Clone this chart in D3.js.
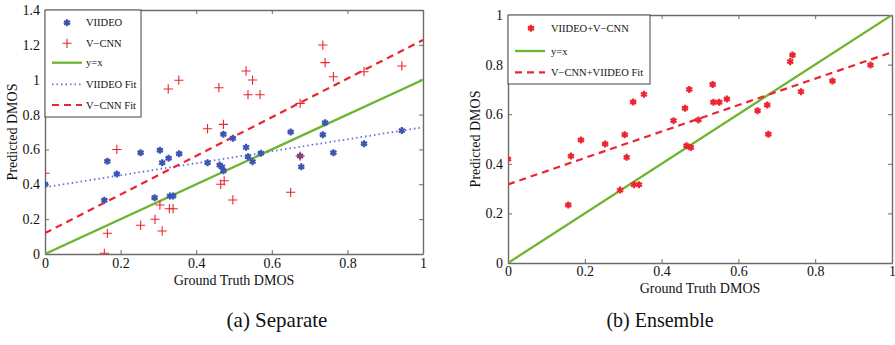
<!DOCTYPE html>
<html><head><meta charset="utf-8">
<script src="https://cdn.jsdelivr.net/npm/d3@7"></script>
<style>body{margin:0;background:#fff}svg{display:block}svg text{font-family:"Liberation Serif","DejaVu Serif",serif !important;fill:#111}</style>
</head><body><svg id="c" width="895" height="345"></svg>
<script>
// ---- data ----
const viideoX = [0,0.157,0.165,0.19,0.253,0.29,0.304,0.31,0.327,0.331,0.339,0.355,0.43,0.462,0.468,0.472,0.472,0.497,0.532,0.537,0.549,0.571,0.65,0.675,0.678,0.735,0.741,0.763,0.844,0.944];
const viideoY = [0.40,0.308,0.532,0.459,0.581,0.323,0.595,0.524,0.549,0.333,0.333,0.575,0.524,0.51,0.50,0.478,0.687,0.664,0.612,0.558,0.53,0.578,0.70,0.562,0.50,0.684,0.753,0.581,0.633,0.708];
const vcnnX = [0,0.157,0.165,0.19,0.253,0.291,0.304,0.31,0.326,0.329,0.339,0.354,0.43,0.46,0.465,0.472,0.474,0.497,0.532,0.537,0.549,0.569,0.65,0.675,0.675,0.735,0.741,0.763,0.844,0.944];
const vcnnY = [0.463,0.004,0.119,0.60,0.165,0.199,0.281,0.132,0.947,0.26,0.26,0.997,0.719,0.954,0.40,0.744,0.42,0.31,1.05,0.914,0.998,0.914,0.354,0.562,0.864,1.199,1.098,1.017,1.046,1.079];
const ensX = [0,0.157,0.164,0.19,0.253,0.292,0.304,0.309,0.326,0.328,0.341,0.354,0.431,0.461,0.465,0.472,0.476,0.496,0.533,0.535,0.55,0.57,0.65,0.675,0.678,0.735,0.741,0.763,0.845,0.944];
const ensY = [0.419,0.234,0.431,0.496,0.48,0.294,0.517,0.426,0.649,0.316,0.316,0.68,0.574,0.624,0.473,0.70,0.466,0.577,0.72,0.648,0.648,0.661,0.614,0.637,0.519,0.812,0.839,0.691,0.734,0.798];
// fit lines: predicted value at x=0 and x=1
const viideoFit = [0.383, 0.727];
const vcnnFit = [0.12, 1.228];
const ensFit = [0.317, 0.85];
const identity = [0, 1];
const xTicksL = [0,0.2,0.4,0.6,0.8,1];
const yTicksL = [0,0.2,0.4,0.6,0.8,1,1.2,1.4];
const yTicksR = [0,0.2,0.4,0.6,0.8,1];
const xLabel = "Ground Truth DMOS", yLabel = "Predicted DMOS";
const captions = ["(a) Separate", "(b) Ensemble"];
const legendL = ["VIIDEO","V\u2212CNN","y=x","VIIDEO Fit","V\u2212CNN Fit"];
const legendR = ["VIIDEO+V\u2212CNN","y=x","V\u2212CNN+VIIDEO Fit"];

const BLUE="#3b56b0", RED="#ec2430", GREEN="#6cb52f", DOT="#6a6ae0", AX="#6b6b6b";
const FONT = '"Liberation Serif","DejaVu Serif",serif';
const svg = d3.select("#c");

function panel(cfg){
  const g = svg.append("g");
  const x = d3.scaleLinear().domain([0,1]).range([cfg.x0,cfg.x1]);
  const y = d3.scaleLinear().domain([0,cfg.ymax]).range([cfg.yb,cfg.yt]);
  const fmt = d => d3.format("~g")(d);
  const ax = (axis, tr) => {const a=g.append("g").attr("transform",tr).call(axis);
    a.attr("font-family",FONT);
    a.select(".domain").attr("stroke",AX).attr("stroke-width",1.4);
    a.selectAll(".tick line").attr("stroke",AX).attr("stroke-width",1);
    a.selectAll("text").attr("font-size",14).attr("fill","#111");
    return a;};
  ax(d3.axisBottom(x).tickValues(cfg.xt).tickSize(-4).tickSizeOuter(0).tickPadding(cfg.xpad).tickFormat(fmt),`translate(0,${cfg.yb})`);
  ax(d3.axisTop(x).tickValues(cfg.xt).tickSize(-4).tickSizeOuter(0).tickFormat(""),`translate(0,${cfg.yt})`);
  ax(d3.axisLeft(y).tickValues(cfg.yt_).tickSize(-4).tickSizeOuter(0).tickPadding(5).tickFormat(fmt),`translate(${cfg.x0},0)`);
  ax(d3.axisRight(y).tickValues(cfg.yt_).tickSize(-4).tickSizeOuter(0).tickFormat(""),`translate(${cfg.x1},0)`);
  const line = d3.line().x(d=>x(d[0])).y(d=>y(d[1]));
  const clip = "clip"+cfg.id;
  svg.append("clipPath").attr("id",clip).append("rect").attr("x",cfg.x0).attr("y",cfg.yt).attr("width",cfg.x1-cfg.x0).attr("height",cfg.yb-cfg.yt);
  const pg = g.append("g").attr("clip-path",`url(#${clip})`);
  return {g,pg,x,y,line};
}
const asterisk = d3.symbol().type(d3.symbolAsterisk).size(34);
const plus = d3.symbol().type(d3.symbolPlus).size(30);

function drawPts(p, xs, ys, sym, color, sw){
  p.pg.selectAll(null).data(xs.map((v,i)=>[v,ys[i]])).join("path")
    .attr("d",sym).attr("transform",d=>`translate(${p.x(d[0])},${p.y(d[1])})`)
    .attr("fill","none").attr("stroke",color).attr("stroke-width",sw);
}
function fitLine(p, vals, color, dash, sw){
  p.pg.append("path").attr("d",p.line([[0,vals[0]],[1,vals[1]]])).attr("fill","none")
   .attr("stroke",color).attr("stroke-width",sw).attr("stroke-dasharray",dash);
}

// Left panel
const L = panel({id:"L",x0:45,x1:423,yt:10,yb:254,ymax:1.4,xt:xTicksL,yt_:yTicksL,xpad:4});
fitLine(L, identity, GREEN, null, 2.3);
fitLine(L, viideoFit, DOT, "1.5,3", 1.8);
fitLine(L, vcnnFit, RED, "7,5", 2.2);
drawPts(L, viideoX, viideoY, asterisk, BLUE, 2.2);
drawPts(L, vcnnX, vcnnY, plus, RED, 1.1);

// Right panel
const R = panel({id:"R",x0:508,x1:892,yt:15,yb:263,ymax:1,xt:xTicksL,yt_:yTicksR,xpad:3});
fitLine(R, identity, GREEN, null, 2.3);
fitLine(R, ensFit, RED, "7,5", 2.2);
drawPts(R, ensX, ensY, asterisk, RED, 2.2);

// Legends
function legend(x0,y0,w,h,items,ys,symX,lx0,lx1,tx){
  const g = svg.append("g");
  g.append("rect").attr("x",x0).attr("y",y0).attr("width",w).attr("height",h).attr("fill","#fff").attr("stroke","#444").attr("stroke-width",1);
  items.forEach((it,i)=>{
    const yy = ys[i];
    if(it.sym){ g.append("path").attr("d",it.sym).attr("transform",`translate(${symX},${yy})`).attr("fill","none").attr("stroke",it.color).attr("stroke-width",it.sw); }
    else { g.append("line").attr("x1",lx0).attr("x2",lx1).attr("y1",yy).attr("y2",yy).attr("stroke",it.color).attr("stroke-width",it.w).attr("stroke-dasharray",it.dash); }
    g.append("text").attr("x",tx).attr("y",yy).attr("dy","0.35em").attr("font-size",10.5).attr("font-family",FONT).text(it.label);
  });
}
legend(45,10,96,107,[
  {label:legendL[0],sym:asterisk,color:BLUE,sw:2.2},
  {label:legendL[1],sym:plus,color:RED,sw:1.1},
  {label:legendL[2],color:GREEN,w:2.3,dash:null},
  {label:legendL[3],color:DOT,w:1.8,dash:"1.5,3"},
  {label:legendL[4],color:RED,w:2.2,dash:"7,5"}
],[22.7,43.3,62.7,84.3,105],67,52,82,86);
legend(508,15,142,69,[
  {label:legendR[0],sym:asterisk,color:RED,sw:2.2},
  {label:legendR[1],color:GREEN,w:2.3,dash:null},
  {label:legendR[2],color:RED,w:2.2,dash:"7,5"}
],[28.3,51,72.3],531,515,545,551);

// axis labels
const T = (x,y,s,txt,tr) => svg.append("text").attr("x",x).attr("y",y).attr("transform",tr||null).attr("text-anchor","middle").attr("font-size",s).attr("font-family",FONT).text(txt);
T(234,285,14,xLabel);
T(700,293,14,xLabel);
T(0,0,14,yLabel,"translate(17,132) rotate(-90)");
T(0,0,14,yLabel,"translate(480,139) rotate(-90)");
// captions
T(277,327,21,captions[0]);
T(660,327,20,captions[1]);
</script></body></html>
